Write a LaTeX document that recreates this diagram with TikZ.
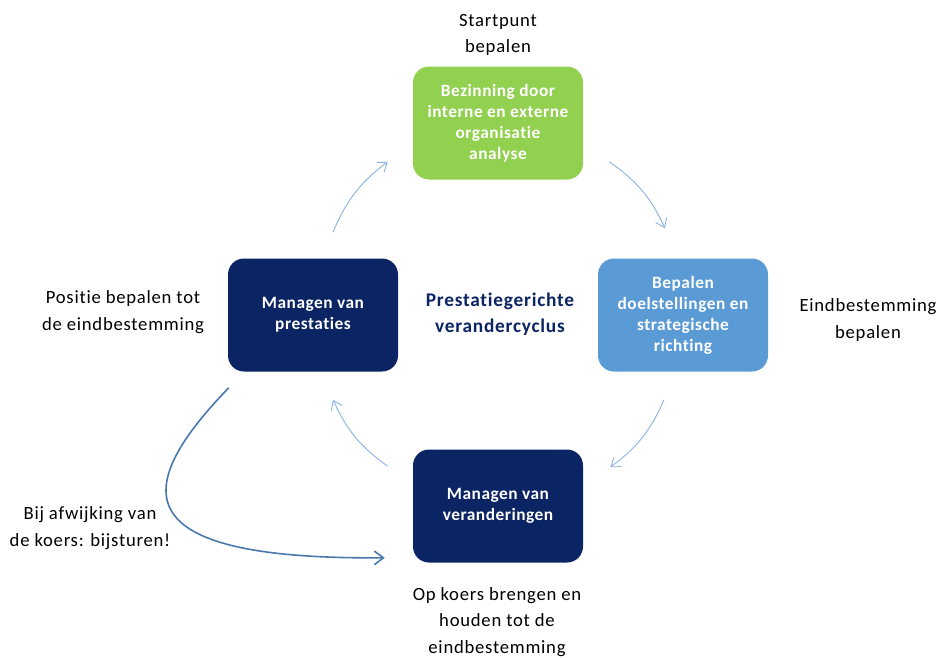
\documentclass[tikz,border=0pt]{standalone}
\usepackage{fontspec}
\setmainfont{Carlito}[Ligatures=CommonOff]
\usetikzlibrary{arrows.meta}
\definecolor{stepgreen}{HTML}{92D050}
\definecolor{stepblue}{HTML}{5B9BD5}
\definecolor{stepnavy}{HTML}{0B2463}
\definecolor{cyclearrow}{HTML}{8EB4E3}
\definecolor{steerarrow}{HTML}{4A78AE}
\newcommand\boxwidth{127.5pt}
\newcommand\boxheight{84.75pt}

\begin{document}
\begin{tikzpicture}[
    x=0.75pt,y=-0.75pt,
    stepbox/.style={
      rectangle,rounded corners=12pt,
      minimum width=\boxwidth,minimum height=\boxheight,
      align=center,text=white,
      font=\bfseries\fontsize{13}{15.75}\selectfont\addfontfeature{LetterSpace=3}},
    note/.style={align=center,
      font=\fontsize{14}{19.8}\selectfont\addfontfeature{LetterSpace=4}},
    cyc/.style={draw=cyclearrow,line width=0.7pt,
      -{Straight Barb[length=2.2mm,width=3.2mm]},bend left=15},
    steer/.style={draw=steerarrow,line width=1.2pt,
      -{Straight Barb[length=2.4mm,width=3.6mm]}}
  ]
    \useasboundingbox (0,0) rectangle (938,657);

    % the four steps of the cycle
    \node[stepbox,fill=stepgreen] (bezinning) at (498,123)
      {Bezinning door\\interne en externe\\organisatie\\analyse};
    \node[stepbox,fill=stepblue] (doelen) at (683,315)
      {Bepalen\\doelstellingen en\\strategische\\richting};
    \node[stepbox,fill=stepnavy] (veranderingen) at (498,506)
      {Managen van\\veranderingen};
    \node[stepbox,fill=stepnavy] (prestaties) at (313,315)
      {Managen van\\prestaties};

    \node[align=center,text=stepnavy,
      font=\bfseries\fontsize{14.5}{19.5}\selectfont\addfontfeature{LetterSpace=4}]
      (cyclus) at (500,314) {Prestatiegerichte\\verandercyclus};

    % explanations round the cycle
    \node[note] (startpunt) at (498,35) {Startpunt\\bepalen};
    \node[note] (eind) at (868,320) {Eindbestemming\\bepalen};
    \node[note] (koers) at (497,622)
      {Op koers brengen en\\houden tot de\\eindbestemming};
    \node[note] (positie) at (123,312)
      {Positie bepalen tot\\de eindbestemming};
    \node[note] (bijsturen) at (90,528)
      {Bij afwijking van\\de koers: bijsturen!};

    % arrow ends, a little off the boxes
    \coordinate (p1) at ([shift={(20,-26)}]prestaties.north);
    \coordinate (b1) at ([shift={(-25,-18)}]bezinning.south west);
    \coordinate (b2) at ([shift={(26,-18)}]bezinning.south east);
    \coordinate (d1) at ([shift={(-18,-30)}]doelen.north);
    \coordinate (d2) at ([shift={(-19,28)}]doelen.south);
    \coordinate (v1) at ([shift={(27,18)}]veranderingen.north east);
    \coordinate (v2) at ([shift={(-25,17)}]veranderingen.north west);
    \coordinate (p2) at ([shift={(20,28)}]prestaties.south);
    \coordinate (p3) at ([shift={(1,16)}]prestaties.south west);
    \coordinate (v3) at ([shift={(-28,-5)}]veranderingen.south west);

    \draw[cyc] (p1) to (b1);
    \draw[cyc] (b2) to (d1);
    \draw[cyc] (d2) to (v1);
    \draw[cyc] (v2) to (p2);

    \draw[steer] (p3) .. controls (130,490) and (125,560) .. (v3);
  \end{tikzpicture}
\end{document}
